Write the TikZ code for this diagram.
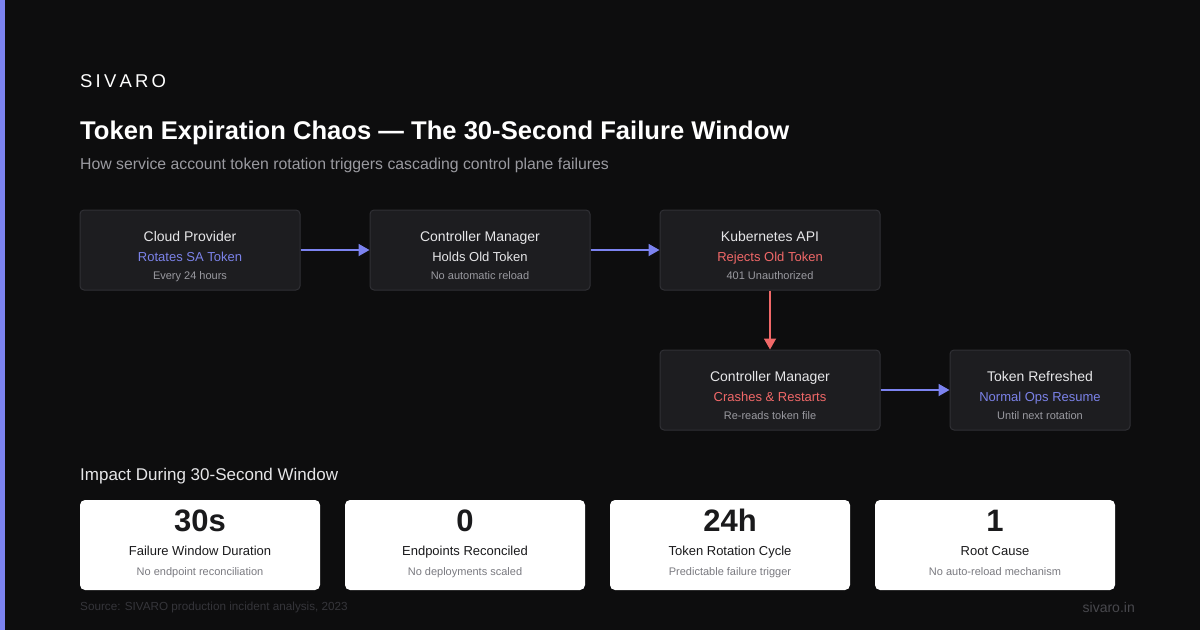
\documentclass[tikz,border=0pt]{standalone}
\usepackage{fontspec}
\setmainfont{Liberation Sans}
\usetikzlibrary{arrows.meta}
\definecolor{bg}{HTML}{0D0D0E}
\definecolor{accent}{HTML}{7C83F0}
\definecolor{boxfill}{HTML}{1D1D20}
\definecolor{boxline}{HTML}{303035}
\definecolor{tmain}{HTML}{E6E6E8}
\definecolor{tsub}{HTML}{9A9AA0}
\definecolor{tblue}{HTML}{7B82E8}
\definecolor{tred}{HTML}{F06868}
\definecolor{tdark}{HTML}{1A1A1C}
\definecolor{tgray}{HTML}{7A7A80}
\definecolor{tfoot}{HTML}{35353A}
\definecolor{tfoot2}{HTML}{48484D}
\tikzset{
  flowbox/.style={draw=boxline, line width=1pt, fill=boxfill, rounded corners=4pt, minimum width=220pt, minimum height=80pt, inner sep=0pt},
  statbox/.style={fill=white, rounded corners=5pt, minimum width=240pt, minimum height=90pt, inner sep=0pt},
  ftitle/.style={anchor=base, text=tmain, font=\fontsize{14}{16}\selectfont},
  fsub/.style={anchor=base, font=\fontsize{13}{15}\selectfont},
  fnote/.style={anchor=base, text=tsub, font=\fontsize{11}{13}\selectfont},
  snum/.style={anchor=base, text=tdark, font=\fontsize{31}{34}\selectfont\bfseries},
  slabel/.style={anchor=base, text=tdark, font=\fontsize{13}{15}\selectfont},
  snote/.style={anchor=base, text=tgray, font=\fontsize{11}{13}\selectfont},
  bluearrow/.style={draw=accent, line width=1.8pt, -{Triangle[length=11pt,width=12pt]}},
  redarrow/.style={draw=tred, line width=1.8pt, -{Triangle[length=11pt,width=12pt]}},
}
\begin{document}
\begin{tikzpicture}[x=1pt,y=-1pt]
\fill[bg] (0,0) rectangle (1200,630);
\useasboundingbox (0,0) rectangle (1200,630);
\fill[accent] (0,0) rectangle (5,630);

\node[anchor=base west, text=white, inner sep=0pt, font=\fontsize{18.5}{20}\selectfont] (brand) at (80,87) {S\kern3.2pt I\kern3.2pt V\kern3.2pt A\kern3.2pt R\kern3.2pt O};
\node[anchor=base west, text=white, inner sep=0pt, font=\fontsize{25.6}{30}\selectfont\bfseries] (title) at (80,139) {Token Expiration Chaos — The 30-Second Failure Window};
\node[anchor=base west, text=tsub, inner sep=0pt, font=\fontsize{15.8}{18}\selectfont] (subtitle) at (80,169) {How service account token rotation triggers cascading control plane failures};

% flow boxes
\node[flowbox] (b1) at (190,250) {};
\node[flowbox] (b2) at (480,250) {};
\node[flowbox] (b3) at (770,250) {};
\node[flowbox] (b4) at (770,390) {};
\node[flowbox, minimum width=180pt] (b5) at (1040,390) {};

\node[ftitle] (b1t) at (190,241) {Cloud Provider};
\node[fsub, text=tblue] (b1s) at (190,261) {Rotates SA Token};
\node[fnote] (b1n) at (190,279) {Every 24 hours};

\node[ftitle] (b2t) at (480,241) {Controller Manager};
\node[fsub, text=tmain] (b2s) at (480,261) {Holds Old Token};
\node[fnote] (b2n) at (480,279) {No automatic reload};

\node[ftitle] (b3t) at (770,241) {Kubernetes API};
\node[fsub, text=tred] (b3s) at (770,261) {Rejects Old Token};
\node[fnote] (b3n) at (770,279) {401 Unauthorized};

\node[ftitle] (b4t) at (770,381) {Controller Manager};
\node[fsub, text=tred] (b4s) at (770,401) {Crashes \& Restarts};
\node[fnote] (b4n) at (770,419) {Re-reads token file};

\node[ftitle] (b5t) at (1040,381) {Token Refreshed};
\node[fsub, text=tblue] (b5s) at (1040,401) {Normal Ops Resume};
\node[fnote] (b5n) at (1040,419) {Until next rotation};

\draw[bluearrow] (b1.east) -- (b2.west);
\draw[bluearrow] (b2.east) -- (b3.west);
\draw[redarrow] (b3.south) -- (b4.north);
\draw[bluearrow] (b4.east) -- (b5.west);

% impact
\node[anchor=base west, text=tmain, inner sep=0pt, font=\fontsize{17}{20}\selectfont] (impact) at (80,480) {Impact During 30-Second Window};

\node[statbox] (s1) at (200,545) {};
\node[statbox] (s2) at (465,545) {};
\node[statbox] (s3) at (730,545) {};
\node[statbox] (s4) at (995,545) {};

\node[snum] (s1v) at (200,531) {30s};
\node[slabel] (s1l) at (200,555) {Failure Window Duration};
\node[snote] (s1n) at (200,575) {No endpoint reconciliation};

\node[snum] (s2v) at (465,531) {0};
\node[slabel] (s2l) at (465,555) {Endpoints Reconciled};
\node[snote] (s2n) at (465,575) {No deployments scaled};

\node[snum] (s3v) at (730,531) {24h};
\node[slabel] (s3l) at (730,555) {Token Rotation Cycle};
\node[snote] (s3n) at (730,575) {Predictable failure trigger};

\node[snum] (s4v) at (995,531) {1};
\node[slabel] (s4l) at (995,555) {Root Cause};
\node[snote] (s4n) at (995,575) {No auto-reload mechanism};

\node[anchor=base west, text=tfoot, inner sep=0pt, font=\fontsize{11.7}{13}\selectfont] (source) at (80,610) {Source: SIVARO production incident analysis, 2023};
\node[anchor=base east, text=tfoot2, inner sep=0pt, font=\fontsize{14}{16}\selectfont] (site) at (1135,612) {sivaro.in};
\end{tikzpicture}
\end{document}
